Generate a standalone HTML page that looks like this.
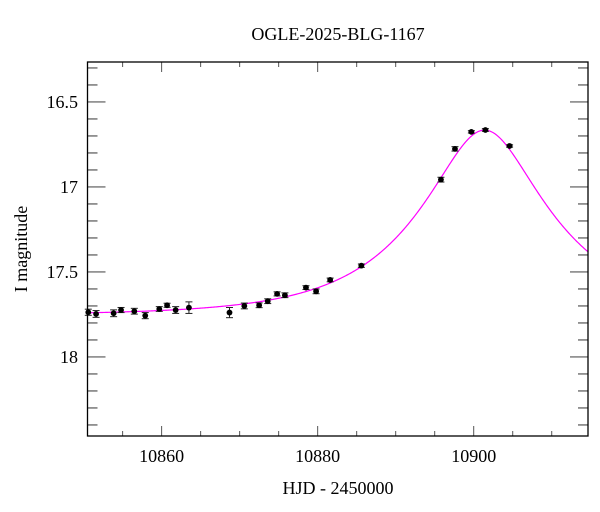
<!DOCTYPE html>
<html><head><meta charset="utf-8"><style>
html,body{margin:0;padding:0;background:#fff;}
svg{display:block;font-family:"Liberation Serif",serif;}
</style></head><body>
<svg id="chart" width="600" height="512">
<text x="338" y="40" text-anchor="middle" font-size="18">OGLE-2025-BLG-1167</text>
<text x="338" y="494" text-anchor="middle" font-size="18">HJD - 2450000</text>
<text transform="translate(27,249) rotate(-90)" text-anchor="middle" font-size="18">I magnitude</text>
<g id="ticks"></g>
<g id="model"></g>
<g id="pts"></g>
<rect x="87.5" y="62" width="500.5" height="374" fill="none" stroke="#000" stroke-width="1.3"/>
</svg>
<script>
const hjd = [10850.6,10851.6,10853.85,10854.8,10856.5,10857.9,10859.7,10860.7,10861.8,10863.5,10868.7,10870.6,10872.5,10873.6,10874.8,10875.8,10878.5,10879.8,10881.6,10885.6,10895.8,10897.6,10899.7,10901.5,10904.6];
const mag = [17.737,17.747,17.743,17.724,17.731,17.757,17.718,17.696,17.724,17.71,17.739,17.70,17.696,17.672,17.629,17.637,17.592,17.614,17.547,17.463,16.957,16.776,16.676,16.665,16.759];
const err = [0.018,0.02,0.02,0.015,0.017,0.018,0.014,0.012,0.02,0.034,0.03,0.017,0.014,0.014,0.012,0.014,0.011,0.014,0.011,0.01,0.014,0.013,0.007,0.008,0.007];
const xTicks = [10860,10880,10900];
const yTicks = [16.5,17,17.5,18];
const modelT0 = [10901.4];
const modelTE = [16];
const modelU0 = [0.387];
const modelBase = [17.755];

const X0=87.5,X1=588,Y0=62,Y1=436;
const xmin=10850.5,xmax=10914.65,ymin=16.265,ymax=18.465;
const sx=t=>X0+(t-xmin)/(xmax-xmin)*(X1-X0);
const sy=m=>Y0+(m-ymin)/(ymax-ymin)*(Y1-Y0);
const NS="http://www.w3.org/2000/svg";
function mk(tag,attrs,parent){const e=document.createElementNS(NS,tag);for(const k in attrs)e.setAttribute(k,attrs[k]);parent.appendChild(e);return e;}
const tk=document.getElementById('ticks');
for(let t=10855;t<=10910;t+=5){
  const major=xTicks.includes(t);const L=major?10:5;const x=sx(t);
  const a=mk('line',{x1:x,x2:x,y1:Y1,y2:Y1-L,stroke:'#555','stroke-width':1},tk);
  
  
  const b=mk('line',{x1:x,x2:x,y1:Y0,y2:Y0+L,stroke:'#555','stroke-width':1},tk);
  
  
}
xTicks.forEach(t=>{const e=mk('text',{x:sx(t),y:462,'text-anchor':'middle','font-size':18},tk);e.textContent=t;
  
  });
for(let i=0;i<=21;i++){
  const m=16.3+i*0.1; if(m>ymax) break;
  const major=yTicks.some(v=>Math.abs(v-m)<1e-6);const L=major?18:10;const y=sy(m);
  const a=mk('line',{x1:X0,x2:X0+L,y1:y,y2:y,stroke:'#555','stroke-width':1.2},tk);
  
  
  const b=mk('line',{x1:X1,x2:X1-L,y1:y,y2:y,stroke:'#555','stroke-width':1.2},tk);
  
  
}
yTicks.forEach(m=>{const e=mk('text',{x:78,y:sy(m)+6,'text-anchor':'end','font-size':18},tk);e.textContent=String(m);
  
  });
function A(u){return (u*u+2)/(u*Math.sqrt(u*u+4));}
let d='';
for(let i=0;i<=500;i++){
  const t=xmin+(xmax-xmin)*i/500;const tau=(t-modelT0[0])/modelTE[0];const u=Math.sqrt(tau*tau+modelU0[0]*modelU0[0]);
  const m=modelBase[0]-2.5*Math.log10(A(u));d+=(i?'L':'M')+sx(t).toFixed(2)+','+sy(m).toFixed(2);
}
const mp=mk('path',{d:d,fill:'none',stroke:'#ff00ff','stroke-width':1.2},document.getElementById('model'));


const pg=document.getElementById('pts');
hjd.forEach((t,i)=>{
  const x=sx(t),y=sy(mag[i]),ya=sy(mag[i]-err[i]),yb=sy(mag[i]+err[i]);
  const g=mk('g',{},pg);
  
  
  mk('line',{x1:x,x2:x,y1:ya,y2:yb,stroke:'#222','stroke-width':1},g);
  mk('line',{x1:x-3.5,x2:x+3.5,y1:ya,y2:ya,stroke:'#222','stroke-width':1},g);
  mk('line',{x1:x-3.5,x2:x+3.5,y1:yb,y2:yb,stroke:'#222','stroke-width':1},g);
  mk('circle',{cx:x,cy:y,r:2.9,fill:'#000'},g);
});
</script>
</body></html>
